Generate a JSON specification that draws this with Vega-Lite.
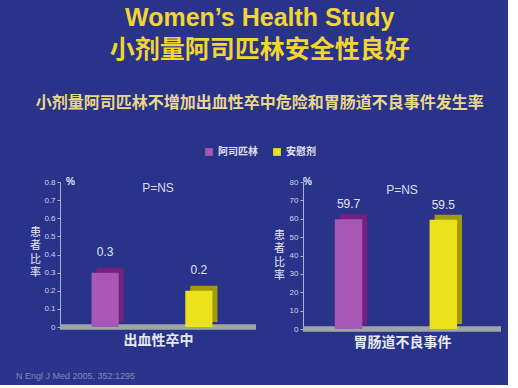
{
  "$schema": "https://vega.github.io/schema/vega-lite/v6.json",
  "background": "#29338a",
  "padding": {"left": 16, "top": 6, "right": 4, "bottom": 4},
  "title": {
    "text": ["Women’s Health Study", "小剂量阿司匹林安全性良好"],
    "subtitle": "小剂量阿司匹林不增加出血性卒中危险和胃肠道不良事件发生率",
    "font": "Liberation Sans, Noto Sans CJK SC",
    "fontSize": 25,
    "fontWeight": "bold",
    "lineHeight": 32,
    "color": "#f2d531",
    "subtitleFont": "Noto Sans CJK SC",
    "subtitleFontSize": 16,
    "subtitleFontWeight": "bold",
    "subtitleColor": "#e8d888",
    "subtitlePadding": 32,
    "anchor": "middle",
    "frame": "bounds",
    "offset": 36
  },
  "datasets": {
    "rates": [
      {"panel": "出血性卒中", "group": "阿司匹林", "value": 0.3},
      {"panel": "出血性卒中", "group": "安慰剂", "value": 0.2},
      {"panel": "胃肠道不良事件", "group": "阿司匹林", "value": 59.7},
      {"panel": "胃肠道不良事件", "group": "安慰剂", "value": 59.5}
    ],
    "note": [{"text": "N Engl J Med 2005, 352:1295"}]
  },
  "spacing": 22,
  "vconcat": [
    {
      "hconcat": [
        {
          "width": 196,
          "height": 145,
          "title": {"text": "P=NS", "orient": "top", "offset": -18, "fontSize": 12, "fontWeight": "normal", "color": "#d8dcf0", "font": "Liberation Sans"},
          "data": {"name": "rates"},
          "transform": [{"filter": "datum.panel === '出血性卒中'"}],
          "encoding": {
            "x": {"field": "group", "type": "nominal", "sort": ["阿司匹林", "安慰剂"],
              "scale": {"paddingInner": 0.71, "paddingOuter": 0.4, "align": 0.42},
              "axis": {"title": "出血性卒中", "labels": false, "ticks": false, "domain": false, "titlePadding": 6}},
            "y": {"field": "value", "type": "quantitative",
              "scale": {"domain": [0, 0.8], "nice": false},
              "axis": {"title": ["患", "者", "比", "率"], "values": [0, 0.1, 0.2, 0.3, 0.4, 0.5, 0.6, 0.7, 0.8],
                "labelExpr": "datum.value === 0 ? '0' : format(datum.value, '.1f')", "titleX": -25, "titleY": 50}}
          },
          "layer": [
            {"mark": {"type": "rule", "color": "#9ea6a4", "strokeWidth": 5}, "encoding": {"x": null, "y": {"datum": 0}}},
            {"mark": {"type": "bar", "xOffset": 5, "yOffset": -5},
              "encoding": {"color": {"condition": {"test": "datum.group === '阿司匹林'", "value": "#74207f"}, "value": "#a39a08"}}},
            {"mark": {"type": "bar"},
              "encoding": {"color": {"field": "group", "type": "nominal", "sort": ["阿司匹林", "安慰剂"], "scale": {"domain": ["阿司匹林", "安慰剂"], "range": ["#a957b5", "#ece21c"]}, "legend": {"title": null}}}},
            {"mark": {"type": "text", "dy": -14, "baseline": "bottom", "fontSize": 12, "color": "#e2e4f2", "font": "Liberation Sans"},
              "encoding": {"text": {"field": "value", "type": "quantitative", "format": ".1f"}}},
            {"mark": {"type": "text", "align": "left", "baseline": "middle", "dx": 6, "fontSize": 10, "color": "#d8dcf0", "font": "Liberation Sans", "text": "%"},
              "encoding": {"x": {"value": 0}, "y": {"datum": 0.8}}}
          ]
        },
        {
          "width": 198,
          "height": 147,
          "title": {"text": "P=NS", "orient": "top", "offset": -20, "fontSize": 12, "fontWeight": "normal", "color": "#d8dcf0", "font": "Liberation Sans"},
          "data": {"name": "rates"},
          "transform": [{"filter": "datum.panel === '胃肠道不良事件'"}],
          "encoding": {
            "x": {"field": "group", "type": "nominal", "sort": ["阿司匹林", "安慰剂"],
              "scale": {"paddingInner": 0.71, "paddingOuter": 0.4, "align": 0.42},
              "axis": {"title": "胃肠道不良事件", "labels": false, "ticks": false, "domain": false, "titlePadding": 6}},
            "y": {"field": "value", "type": "quantitative",
              "scale": {"domain": [0, 80], "nice": false},
              "axis": {"title": ["患", "者", "比", "率"], "values": [0, 10, 20, 30, 40, 50, 60, 70, 80], "titleX": -24, "titleY": 53}}
          },
          "layer": [
            {"mark": {"type": "rule", "color": "#9ea6a4", "strokeWidth": 5}, "encoding": {"x": null, "y": {"datum": 0}}},
            {"mark": {"type": "bar", "xOffset": 5, "yOffset": -5},
              "encoding": {"color": {"condition": {"test": "datum.group === '阿司匹林'", "value": "#74207f"}, "value": "#a39a08"}}},
            {"mark": {"type": "bar"},
              "encoding": {"color": {"field": "group", "type": "nominal", "sort": ["阿司匹林", "安慰剂"], "scale": {"domain": ["阿司匹林", "安慰剂"], "range": ["#a957b5", "#ece21c"]}, "legend": {"title": null}}}},
            {"mark": {"type": "text", "dy": -8, "baseline": "bottom", "fontSize": 12, "color": "#e2e4f2", "font": "Liberation Sans"},
              "encoding": {"text": {"field": "value", "type": "quantitative", "format": ".1f"}}},
            {"mark": {"type": "text", "align": "left", "baseline": "middle", "dx": 0, "fontSize": 10, "color": "#d8dcf0", "font": "Liberation Sans", "text": "%"},
              "encoding": {"x": {"value": 0}, "y": {"datum": 80}}}
          ]
        }
      ],
      "spacing": 14,
      "resolve": {"scale": {"y": "independent", "x": "independent"}}
    },
    {
      "width": 400,
      "height": 10,
      "data": {"name": "note"},
      "mark": {"type": "text", "align": "left", "baseline": "middle", "dx": -44, "fontSize": 9, "color": "#7f88bf", "font": "Liberation Sans"},
      "encoding": {"x": {"value": 0}, "y": {"value": 5}, "text": {"field": "text"}}
    }
  ],
  "config": {
    "view": {"stroke": null},
    "axis": {
      "grid": false,
      "domainColor": "#aab0d0",
      "tickColor": "#aab0d0",
      "tickSize": 3,
      "labelColor": "#d0d4ec",
      "labelFont": "Liberation Sans",
      "labelFontSize": 8,
      "titleColor": "#e6e8f4",
      "titleFont": "Noto Sans CJK SC"
    },
    "axisY": {"titleAngle": 0, "titleFontSize": 11, "titleFontWeight": "normal", "titleLineHeight": 13.5, "titleBaseline": "middle", "titleAlign": "center"},
    "axisX": {"titleFontSize": 14, "titleFontWeight": "bold"},
    "legend": {
      "orient": "top",
      "direction": "horizontal",
      "labelColor": "#e0e0f0",
      "labelFont": "Noto Sans CJK SC",
      "labelFontSize": 10,
      "labelFontWeight": "bold",
      "symbolType": "square",
      "symbolSize": 60,
      "columnPadding": 14,
      "offset": 20,
      "layout": {"top": {"anchor": "middle"}}
    },
    "text": {"font": "Liberation Sans"}
  }
}
